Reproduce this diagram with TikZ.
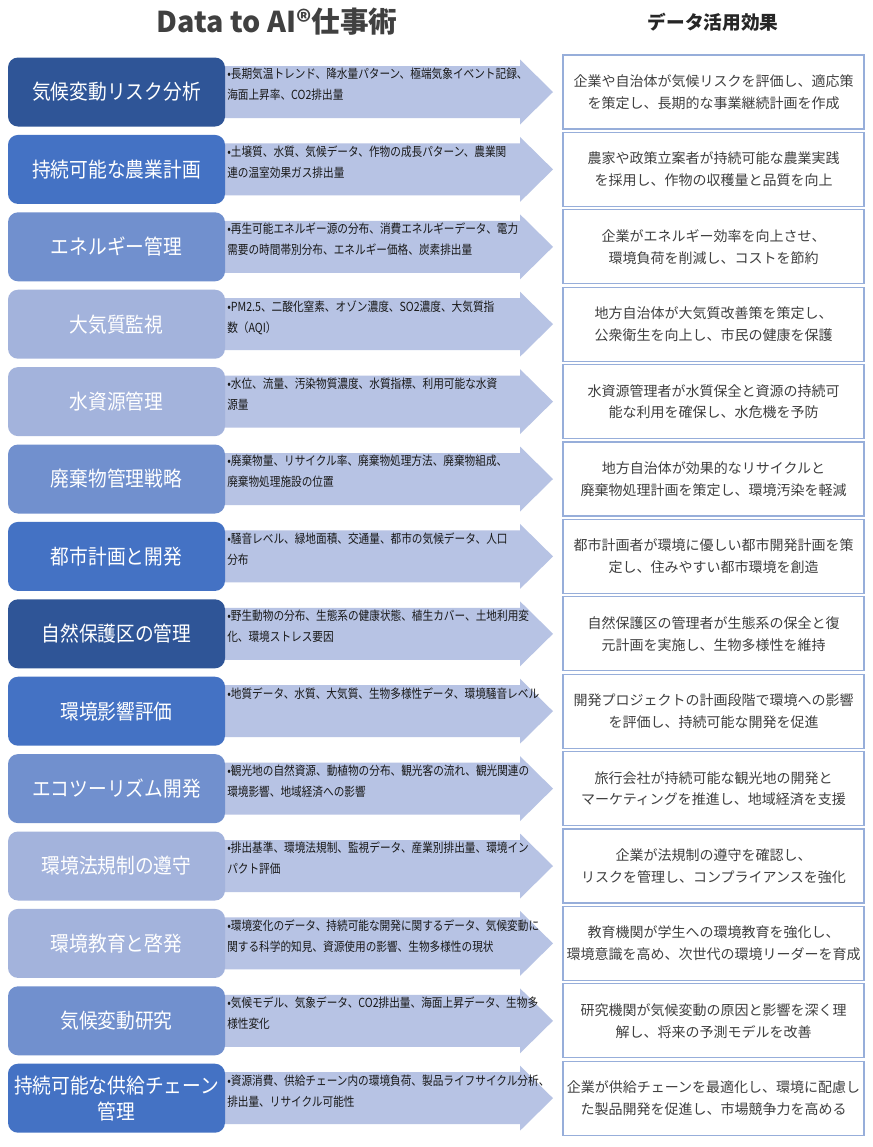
\documentclass[tikz,border=0pt]{standalone}
\usepackage{fontspec}
\setmainfont{Noto Sans CJK JP}
\newfontfamily\jpnarrow{Noto Sans CJK JP}[FakeStretch=0.85]
\newfontfamily\jplabel{Noto Sans CJK JP}[FakeStretch=0.9]
\usepackage{xcolor}
\usepackage{tikz}
\definecolor{navydark}{HTML}{2F5597}
\definecolor{bluemid}{HTML}{4472C4}
\definecolor{bluesoft}{HTML}{7190CE}
\definecolor{bluelight}{HTML}{A3B3DC}
\definecolor{arrowfill}{HTML}{B7C3E4}
\definecolor{boxline}{HTML}{97AEDA}
\definecolor{inkgray}{HTML}{404040}
\tikzset{
  labelbox/.style={rounded corners=7.5pt,minimum width=162.75pt,minimum height=51.75pt,
    inner sep=0pt,text=white,align=center,font=\jplabel\fontsize{15.6pt}{19.5pt}\selectfont},
  datatext/.style={inner sep=0pt,align=left,text=black!90,font=\jpnarrow\fontsize{9.4pt}{15.75pt}\selectfont},
  effectbox/.style={draw=boxline,line width=1pt,fill=white,minimum width=225.75pt,
    minimum height=55.5pt,inner sep=0pt,align=center,text=inkgray,
    font=\fontsize{10.5pt}{16.3pt}\selectfont},
  headtext/.style={inner sep=0pt,text=inkgray,font=\bfseries\fontsize{21.5pt}{24pt}\selectfont}
}

\begin{document}
\begin{tikzpicture}[x=0.75pt,y=-0.75pt]
\useasboundingbox[fill=white] (0,0) rectangle (872,1147);
% column heads
\node[headtext] (title) at (277,22) {Data to AI®仕事術};
\node[headtext,font=\bfseries\fontsize{14pt}{16pt}\selectfont,text=black!85] (effecthead) at (713,22) {データ活用効果};
% one row per use case: label box, data arrow, effect box
\foreach \col/\lab/\dat/\eff [count=\i from 0, evaluate=\i as \y using 92+77.4*\i] in {
 navydark/{気候変動リスク分析}/{•長期気温トレンド、降水量パターン、極端気象イベント記録、\\海面上昇率、CO2排出量}/{企業や自治体が気候リスクを評価し、適応策\\を策定し、長期的な事業継続計画を作成},
 bluemid/{持続可能な農業計画}/{•土壌質、水質、気候データ、作物の成長パターン、農業関\\連の温室効果ガス排出量}/{農家や政策立案者が持続可能な農業実践\\を採用し、作物の収穫量と品質を向上},
 bluesoft/{エネルギー管理}/{•再生可能エネルギー源の分布、消費エネルギーデータ、電力\\需要の時間帯別分布、エネルギー価格、炭素排出量}/{企業がエネルギー効率を向上させ、\\環境負荷を削減し、コストを節約},
 bluelight/{大気質監視}/{•PM2.5、二酸化窒素、オゾン濃度、SO2濃度、大気質指\\数（AQI）}/{地方自治体が大気質改善策を策定し、\\公衆衛生を向上し、市民の健康を保護},
 bluelight/{水資源管理}/{•水位、流量、汚染物質濃度、水質指標、利用可能な水資\\源量}/{水資源管理者が水質保全と資源の持続可\\能な利用を確保し、水危機を予防},
 bluesoft/{廃棄物管理戦略}/{•廃棄物量、リサイクル率、廃棄物処理方法、廃棄物組成、\\廃棄物処理施設の位置}/{地方自治体が効果的なリサイクルと\\廃棄物処理計画を策定し、環境汚染を軽減},
 bluemid/{都市計画と開発}/{•騒音レベル、緑地面積、交通量、都市の気候データ、人口\\分布}/{都市計画者が環境に優しい都市開発計画を策\\定し、住みやすい都市環境を創造},
 navydark/{自然保護区の管理}/{•野生動物の分布、生態系の健康状態、植生カバー、土地利用変\\化、環境ストレス要因}/{自然保護区の管理者が生態系の保全と復\\元計画を実施し、生物多様性を維持},
 bluemid/{環境影響評価}/{•地質データ、水質、大気質、生物多様性データ、環境騒音レベル}/{開発プロジェクトの計画段階で環境への影響\\を評価し、持続可能な開発を促進},
 bluesoft/{エコツーリズム開発}/{•観光地の自然資源、動植物の分布、観光客の流れ、観光関連の\\環境影響、地域経済への影響}/{旅行会社が持続可能な観光地の開発と\\マーケティングを推進し、地域経済を支援},
 bluelight/{環境法規制の遵守}/{•排出基準、環境法規制、監視データ、産業別排出量、環境イン\\パクト評価}/{企業が法規制の遵守を確認し、\\リスクを管理し、コンプライアンスを強化},
 bluelight/{環境教育と啓発}/{•環境変化のデータ、持続可能な開発に関するデータ、気候変動に\\関する科学的知見、資源使用の影響、生物多様性の現状}/{教育機関が学生への環境教育を強化し、\\環境意識を高め、次世代の環境リーダーを育成},
 bluesoft/{気候変動研究}/{•気候モデル、気象データ、CO2排出量、海面上昇データ、生物多\\様性変化}/{研究機関が気候変動の原因と影響を深く理\\解し、将来の予測モデルを改善},
 bluemid/{持続可能な供給チェーン\\管理}/{•資源消費、供給チェーン内の環境負荷、製品ライフサイクル分析、\\排出量、リサイクル可能性}/{企業が供給チェーンを最適化し、環境に配慮し\\た製品開発を促進し、市場競争力を高める}}
{
  \fill[arrowfill] (215,\y-26) -- (520,\y-26) -- (520,\y-32.5) -- (553,\y)
     -- (520,\y+32.5) -- (520,\y+26) -- (215,\y+26) -- cycle;
  \node[labelbox,fill=\col] (L\i) at (116.5,\y) {\lab};
  \node[datatext,anchor=north west] (D\i) at (227,\y-24) {\dat};
  \node[effectbox] (R\i) at (713.5,\y) {\eff};
}
\end{tikzpicture}
\end{document}
